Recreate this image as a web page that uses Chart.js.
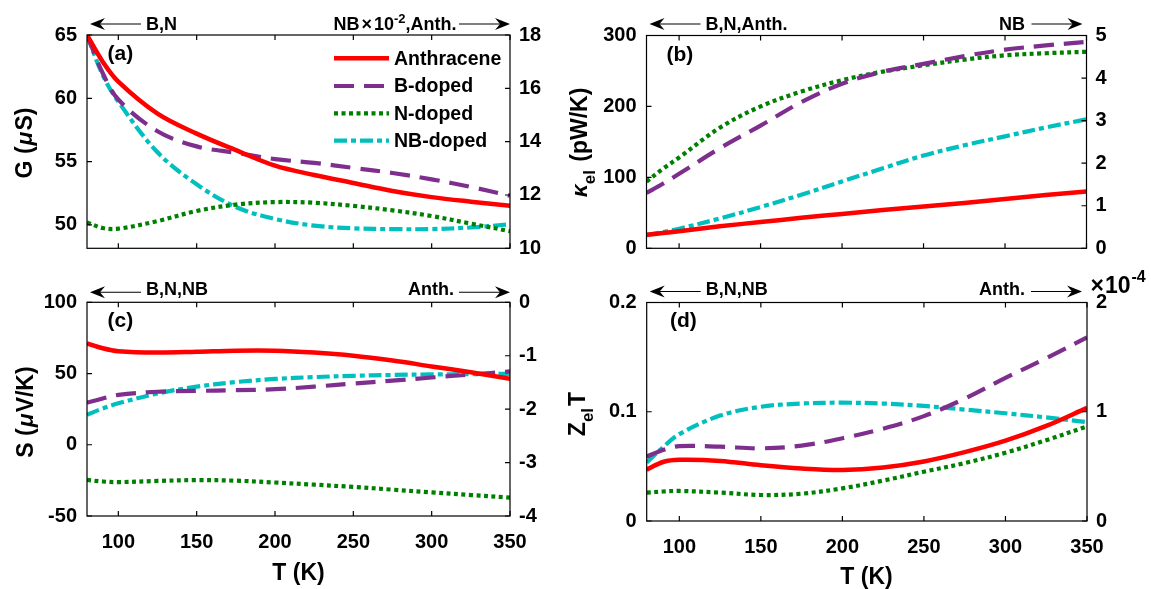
<!DOCTYPE html>
<html><head><meta charset="utf-8">
<script src="https://cdn.jsdelivr.net/npm/chart.js@4.4.1/dist/chart.umd.min.js"></script>
<style>
html,body{margin:0;padding:0;background:#fff;}
#wrap{position:relative;width:1151px;height:589px;overflow:hidden;background:#fff;}
#wrap canvas{position:absolute;left:0;top:0;}
</style></head><body>
<div id="wrap">
<canvas id="ca" width="1151" height="589"></canvas>
<canvas id="cb" width="1151" height="589"></canvas>
<canvas id="cc" width="1151" height="589"></canvas>
<canvas id="cd" width="1151" height="589"></canvas>
</div>
<script>
// ---------------- data ----------------
const T = [80, 90, 100, 125, 150, 175, 200, 225, 250, 275, 300, 325, 350];
const xTickValues = [100, 150, 200, 250, 300, 350];

// (a) conductance G : B, N on left axis (uS); NB x1e-2 and Anthracene on right axis
const gAnthracene = [18.0, 17.0, 16.25, 15.05, 14.3, 13.68, 13.1, 12.75, 12.45, 12.15, 11.92, 11.75, 11.6];
const gBdoped     = [65.0, 62.0, 59.9, 57.4, 56.2, 55.7, 55.2, 54.9, 54.5, 54.1, 53.6, 53.0, 52.3];
const gNdoped     = [50.2, 49.75, 49.7, 50.3, 51.1, 51.6, 51.8, 51.75, 51.5, 51.15, 50.7, 50.1, 49.5];
const gNBdoped    = [18.0, 16.5, 15.5, 13.6, 12.4, 11.55, 11.1, 10.85, 10.75, 10.72, 10.72, 10.78, 10.9];
const gLeftTicks  = [50, 55, 60, 65];
const gRightTicks = [10, 12, 14, 16, 18];

// (b) kappa_el : B, N, Anth on left axis; NB on right axis
const kAnthracene = [19, 21.5, 24, 31, 37, 43, 48.5, 54, 59, 64, 69.5, 75, 80];
const kBdoped     = [78, 91, 105, 141, 173, 206, 232, 249, 260, 271, 280, 286, 291];
const kNdoped     = [94, 112, 128, 170, 200, 221, 237, 249, 258, 266, 272, 275, 277];
const kNBdoped    = [0.31, 0.38, 0.46, 0.7, 0.97, 1.26, 1.57, 1.88, 2.18, 2.42, 2.63, 2.84, 3.03];
const kLeftTicks  = [0, 100, 200, 300];
const kRightTicks = [0, 1, 2, 3, 4, 5];

// (c) Seebeck S : B, N, NB on left axis; Anth on right axis
const sAnthracene = [-0.77, -0.86, -0.915, -0.94, -0.925, -0.905, -0.905, -0.94, -1.0, -1.09, -1.2, -1.31, -1.43];
const sBdoped     = [29.5, 32.5, 35, 37.2, 37.8, 38.3, 39, 40.8, 43, 45, 47.2, 49.3, 51.5];
const sNdoped     = [-24.7, -25.8, -26.2, -25.4, -24.8, -25.2, -26.5, -28, -29.6, -31.5, -33.4, -35.3, -37.1];
const sNBdoped    = [21, 25.5, 29.1, 36, 40.8, 44, 46.2, 47.5, 48.4, 49, 49.4, 49.6, 49.8];
const sLeftTicks  = [-50, 0, 50, 100];
const sRightTicks = [-4, -3, -2, -1, 0];

// (d) Z_el T : B, N, NB on left axis; Anth (x1e-4) on right axis
const zAnthracene = [0.47, 0.54, 0.56, 0.55, 0.51, 0.48, 0.467, 0.49, 0.545, 0.63, 0.735, 0.87, 1.035];
const zBdoped     = [0.059, 0.065, 0.0685, 0.068, 0.0665, 0.069, 0.0757, 0.0845, 0.096, 0.112, 0.131, 0.149, 0.168];
const zNdoped     = [0.026, 0.027, 0.0275, 0.026, 0.0238, 0.025, 0.0299, 0.037, 0.0451, 0.053, 0.0625, 0.074, 0.0865];
const zNBdoped    = [0.0535, 0.0675, 0.0795, 0.0965, 0.1046, 0.1075, 0.1083, 0.1075, 0.1053, 0.102, 0.0986, 0.0948, 0.0905];
const zLeftTicks  = [0, 0.1, 0.2];
const zRightTicks = [0, 1, 2];

// ---------------- styles ----------------
const FAM = '"Liberation Sans", Arial, Helvetica, sans-serif';
const STY = {
  'Anthracene': {color:'#ff0000', width:4.5, dash:[]},
  'B-doped':    {color:'#7e2f8e', width:4.2, dash:[20,10]},
  'N-doped':    {color:'#008000', width:4.2, dash:[4,3.5]},
  'NB-doped':   {color:'#00bfbf', width:4.2, dash:[13,4,5,4]}
};
const W = 1151, H = 589, WL = 70, WR = 60, HX = 50;

function fontOf(p){ return (p.it ? 'italic ' : '') + 'bold ' + p.s + 'px ' + FAM; }
function richWidth(ctx, parts){
  let w = 0;
  for (const p of parts){ ctx.font = fontOf(p); w += ctx.measureText(p.t).width + (p.gap||0); }
  return w;
}
function drawRich(ctx, parts, x, y, align, rot){
  ctx.save();
  ctx.translate(x, y);
  if (rot) ctx.rotate(rot);
  const w = richWidth(ctx, parts);
  let cx = align === 'center' ? -w/2 : (align === 'right' ? -w : 0);
  ctx.textBaseline = 'alphabetic'; ctx.textAlign = 'left'; ctx.fillStyle = '#000';
  for (const p of parts){
    ctx.font = fontOf(p);
    ctx.fillText(p.t, cx, p.dy || 0);
    cx += ctx.measureText(p.t).width + (p.gap||0);
  }
  ctx.restore();
}
function arrow(ctx, x1, x2, y){ // arrow from x1 (tail) to x2 (tip)
  const d = Math.sign(x2 - x1);
  ctx.save();
  ctx.strokeStyle = '#000'; ctx.fillStyle = '#000'; ctx.lineWidth = 1.1;
  ctx.beginPath(); ctx.moveTo(x1, y); ctx.lineTo(x2 - d*6, y); ctx.stroke();
  ctx.beginPath();
  ctx.moveTo(x2, y);
  ctx.lineTo(x2 - d*15, y - 6);
  ctx.lineTo(x2 - d*10, y);
  ctx.lineTo(x2 - d*15, y + 6);
  ctx.closePath(); ctx.fill();
  ctx.restore();
}

function decoPlugin(p){
  return {
    id: 'deco_' + p.id,
    afterDraw(chart){
      const ctx = chart.ctx, a = chart.chartArea;
      const sx = chart.scales.x, sl = chart.scales.yL, sr = chart.scales.yR;
      ctx.save();
      ctx.strokeStyle = '#000'; ctx.lineWidth = 1.2; ctx.setLineDash([]);
      ctx.strokeRect(a.left, a.top, a.right - a.left, a.bottom - a.top);
      const tl = 5;
      ctx.beginPath();
      sx.ticks.forEach(t => { const x = sx.getPixelForValue(t.value);
        ctx.moveTo(x, a.bottom); ctx.lineTo(x, a.bottom - tl);
        ctx.moveTo(x, a.top); ctx.lineTo(x, a.top + tl); });
      sl.ticks.forEach(t => { const y = sl.getPixelForValue(t.value);
        ctx.moveTo(a.left, y); ctx.lineTo(a.left + tl, y); });
      sr.ticks.forEach(t => { const y = sr.getPixelForValue(t.value);
        ctx.moveTo(a.right, y); ctx.lineTo(a.right - tl, y); });
      ctx.stroke();
      drawRich(ctx, [{t:p.tag, s:21}], a.left + p.tagDx, a.top + p.tagDy, 'left', 0);
      const an = p.ann;
      arrow(ctx, a.left + 54, a.left + 3, an.y);
      drawRich(ctx, an.left, a.left + 59, an.base, 'left', 0);
      arrow(ctx, a.right - an.rTip - 51, a.right - an.rTip, an.y);
      drawRich(ctx, an.right, a.right - an.rEnd, an.base, 'right', 0);
      drawRich(ctx, p.yTitle.parts, p.yTitle.x, p.yTitle.y, 'center', -Math.PI/2);
      if (p.xTitle) drawRich(ctx, [{t:'T (K)', s:23}], p.xTitle.x, p.xTitle.y, 'center', 0);
      if (p.extra) p.extra(ctx, chart);
      ctx.restore();
    }
  };
}

function makePanel(p){
  const tickFont = {family: FAM, size: 20, weight: 'bold'};
  const cfg = {
    type: 'line',
    data: { datasets: p.series.map(s => ({
      label: s.name,
      data: T.map((t, i) => ({x: t, y: s.values[i]})),
      yAxisID: s.axis,
      borderColor: STY[s.name].color,
      borderWidth: STY[s.name].width,
      borderDash: STY[s.name].dash,
      borderCapStyle: 'butt',
      borderJoinStyle: 'round',
      pointRadius: 0,
      tension: 0.35,
      fill: false
    }))},
    options: {
      responsive: false, animation: false, devicePixelRatio: 1,
      layout: {padding: {left: p.area.l - WL, right: W - p.area.r - WR, top: p.area.t, bottom: H - p.area.b - HX}},
      plugins: {legend: {display: false}, tooltip: {enabled: false}},
      scales: {
        x: {type: 'linear', position: 'bottom', min: 80, max: 350,
            grid: {display: false, drawTicks: false}, border: {display: false},
            ticks: {display: p.showX, font: tickFont, color: '#000', padding: 14, autoSkip: false, maxRotation: 0,
                    callback: v => String(v)},
            afterBuildTicks: s => { s.ticks = xTickValues.map(v => ({value: v})); },
            afterFit: s => { s.height = HX; }},
        yL: {type: 'linear', position: 'left', min: p.left.min, max: p.left.max,
            grid: {display: false, drawTicks: false}, border: {display: false},
            ticks: {font: tickFont, color: '#000', padding: 10, autoSkip: false, callback: v => String(v)},
            afterBuildTicks: s => { s.ticks = p.left.ticks.map(v => ({value: v})); },
            afterFit: s => { s.width = WL; }},
        yR: {type: 'linear', position: 'right', min: p.right.min, max: p.right.max,
            grid: {display: false, drawTicks: false}, border: {display: false},
            ticks: {font: tickFont, color: '#000', padding: 9, autoSkip: false, callback: v => String(v)},
            afterBuildTicks: s => { s.ticks = p.right.ticks.map(v => ({value: v})); },
            afterFit: s => { s.width = WR; }}
      }
    },
    plugins: [decoPlugin(p)]
  };
  return new Chart(document.getElementById(p.id), cfg);
}

const legendNames = ['Anthracene', 'B-doped', 'N-doped', 'NB-doped'];
const legendRowsY = [58.3, 86, 113.3, 140.7];

makePanel({
  id: 'ca', tag: '(a)', tagDx: 20.5, tagDy: 25,
  area: {l: 87, r: 510, t: 35, b: 248.3}, showX: false,
  left: {min: 48.15, max: 65, ticks: gLeftTicks},
  right: {min: 10, max: 18, ticks: gRightTicks},
  series: [
    {name: 'Anthracene', values: gAnthracene, axis: 'yR'},
    {name: 'B-doped', values: gBdoped, axis: 'yL'},
    {name: 'N-doped', values: gNdoped, axis: 'yL'},
    {name: 'NB-doped', values: gNBdoped, axis: 'yR'}
  ],
  ann: {y: 24, base: 29.5, rEnd: 53.5, rTip: 0,
        left: [{t:'B,N', s:18}],
        right: [{t:'NB', s:18, gap:2}, {t:'×', s:18, gap:2}, {t:'10', s:18}, {t:'-2', s:13, dy:-7}, {t:',Anth.', s:18}]},
  yTitle: {x: 32, y: 143, parts: [{t:'G (', s:23, gap:1}, {t:'μ', s:23, it:true, gap:1}, {t:'S)', s:23}]},
  extra: (ctx) => {
    ctx.save();
    legendNames.forEach((n, i) => {
      const st = STY[n], y = legendRowsY[i];
      ctx.strokeStyle = st.color; ctx.lineWidth = st.width; ctx.setLineDash(st.dash); ctx.lineCap = 'butt';
      ctx.beginPath(); ctx.moveTo(334, y); ctx.lineTo(389, y); ctx.stroke();
      ctx.setLineDash([]);
      ctx.fillStyle = '#000'; ctx.font = 'bold 19.5px ' + FAM; ctx.textBaseline = 'middle'; ctx.textAlign = 'left';
      ctx.fillText(n, 394, y + 1);
    });
    ctx.restore();
  }
});

makePanel({
  id: 'cb', tag: '(b)', tagDx: 20, tagDy: 25,
  area: {l: 646.5, r: 1086.5, t: 35.5, b: 248.3}, showX: false,
  left: {min: 0, max: 300, ticks: kLeftTicks},
  right: {min: 0, max: 5, ticks: kRightTicks},
  series: [
    {name: 'Anthracene', values: kAnthracene, axis: 'yL'},
    {name: 'B-doped', values: kBdoped, axis: 'yL'},
    {name: 'N-doped', values: kNdoped, axis: 'yL'},
    {name: 'NB-doped', values: kNBdoped, axis: 'yR'}
  ],
  ann: {y: 24, base: 29.5, rEnd: 61.5, rTip: 4,
        left: [{t:'B,N,Anth.', s:18}],
        right: [{t:'NB', s:18}]},
  yTitle: {x: 587, y: 142.5, parts: [{t:'κ', s:23, it:true}, {t:'el', s:17, dy:8, gap:2}, {t:' (pW/K)', s:23}]}
});

makePanel({
  id: 'cc', tag: '(c)', tagDx: 20.5, tagDy: 25,
  area: {l: 87, r: 510, t: 302.3, b: 516}, showX: true,
  left: {min: -50, max: 100, ticks: sLeftTicks},
  right: {min: -4, max: 0, ticks: sRightTicks},
  series: [
    {name: 'Anthracene', values: sAnthracene, axis: 'yR'},
    {name: 'B-doped', values: sBdoped, axis: 'yL'},
    {name: 'N-doped', values: sNdoped, axis: 'yL'},
    {name: 'NB-doped', values: sNBdoped, axis: 'yL'}
  ],
  ann: {y: 292.3, base: 295, rEnd: 56, rTip: 0,
        left: [{t:'B,N,NB', s:18}],
        right: [{t:'Anth.', s:18}]},
  yTitle: {x: 33, y: 412, parts: [{t:'S (', s:23, gap:1}, {t:'μ', s:23, it:true, gap:1}, {t:'V/K)', s:23}]},
  xTitle: {x: 298.5, y: 580}
});

makePanel({
  id: 'cd', tag: '(d)', tagDx: 23.3, tagDy: 24.5,
  area: {l: 646.7, r: 1087, t: 302.5, b: 521}, showX: true,
  left: {min: 0, max: 0.2, ticks: zLeftTicks},
  right: {min: 0, max: 2, ticks: zRightTicks},
  series: [
    {name: 'Anthracene', values: zAnthracene, axis: 'yR'},
    {name: 'B-doped', values: zBdoped, axis: 'yL'},
    {name: 'N-doped', values: zNdoped, axis: 'yL'},
    {name: 'NB-doped', values: zNBdoped, axis: 'yL'}
  ],
  ann: {y: 291.5, base: 294.5, rEnd: 62, rTip: 5,
        left: [{t:'B,N,NB', s:18}],
        right: [{t:'Anth.', s:18}]},
  yTitle: {x: 585, y: 414, parts: [{t:'Z', s:23}, {t:'el', s:17, dy:8, gap:2}, {t:'T', s:23}]},
  xTitle: {x: 866.5, y: 584},
  extra: (ctx) => {
    drawRich(ctx, [{t:'×', s:23, gap:1}, {t:'10', s:23, gap:1}, {t:'-4', s:16, dy:-11}], 1090.5, 293, 'left', 0);
  }
});
</script>
</body></html>
